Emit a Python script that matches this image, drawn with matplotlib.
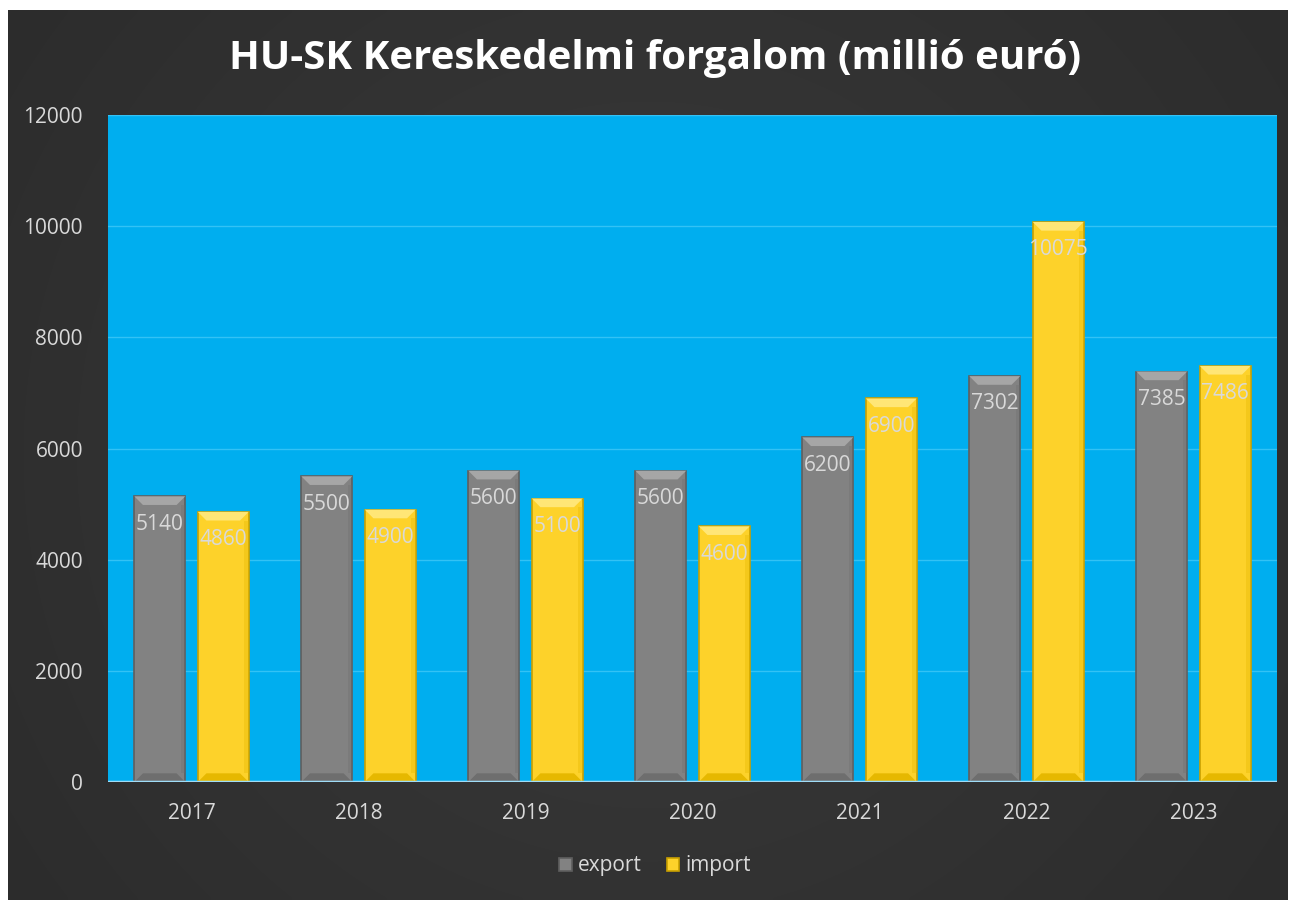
import numpy as np
import matplotlib.pyplot as plt
from matplotlib.patches import Polygon, Rectangle

years = ["2017", "2018", "2019", "2020", "2021", "2022", "2023"]
export = [5140, 5500, 5600, 5600, 6200, 7302, 7385]
imports = [4860, 4900, 5100, 4600, 6900, 10075, 7486]

title = "HU-SK Kereskedelmi forgalom (millió euró)"
yticks = [0, 2000, 4000, 6000, 8000, 10000, 12000]

plt.rcParams['font.family'] = ['Open Sans', 'DejaVu Sans']

W, H = 1289, 900
fig = plt.figure(figsize=(W / 100, H / 100), dpi=100, facecolor='white')

# dark background with a soft radial glow
bg = fig.add_axes([8 / W, 0, (1288 - 8) / W, (H - 10) / H])
bg.set_axis_off()
yy, xx = np.mgrid[0:1:200j, 0:1:300j]
r = np.sqrt((xx - 0.5) ** 2 + ((yy - 0.5) * 0.7) ** 2)
glow = np.clip(1 - r / 0.75, 0, 1)
shade = 0.16 + 0.07 * glow
img = np.dstack([shade, shade, shade])
bg.imshow(img, aspect='auto', extent=[0, 1, 0, 1], interpolation='bilinear')

# plot area
left, right, top, bottom = 108, 1277, 115, 782
ax = fig.add_axes([left / W, 1 - bottom / H, (right - left) / W, (bottom - top) / H])
ax.set_facecolor('#00aeef')
ax.set_ylim(0, 12000)
ax.set_xlim(-0.5, len(years) - 0.5)
ax.set_yticks(yticks)
ax.yaxis.grid(True, color='#33c2f5', linewidth=1)
ax.set_axisbelow(True)
for s in ax.spines.values():
    s.set_visible(False)
ax.axhline(0, color='#9fdcf7', linewidth=2.5, zorder=4)
ax.tick_params(length=0, colors='#d9d9d9', labelsize=15)
ax.tick_params(axis='y', pad=18)
ax.tick_params(axis='x', pad=15)
ax.set_xticks(range(len(years)))
ax.set_xticklabels(years)

x = np.arange(len(years))
bw = 0.305
off = 0.19

# pixels per data unit, used to keep the bevel square on screen
px_x = (right - left) / len(years)
px_y = (bottom - top) / 12000


def bevel_bars(xs, vals, face, edge, light, dark):
    bars = ax.bar(xs, vals, width=bw, color=face, edgecolor=edge, linewidth=1.2, zorder=3)
    for b in bars:
        x0, w, h = b.get_x(), b.get_width(), b.get_height()
        d = w * 0.17
        dy = d * px_x / px_y
        ax.add_patch(Polygon([[x0, h], [x0 + w, h], [x0 + w - d, h - dy], [x0 + d, h - dy]],
                             closed=True, color=light, zorder=3.5, lw=0))
        ax.add_patch(Polygon([[x0, 0], [x0 + w, 0], [x0 + w - d, dy], [x0 + d, dy]],
                             closed=True, color=dark, zorder=3.5, lw=0))
        ax.add_patch(Rectangle((x0 + w - d * 0.5, dy), d * 0.5, h - 2 * dy,
                               color=dark, alpha=0.35, zorder=3.5, lw=0))
        ax.annotate(f"{int(h)}", (x0 + w / 2, h), xytext=(0, -20), textcoords='offset points',
                    ha='center', va='center', color='#d9d9d9', fontsize=15, zorder=5)
    return bars


b1 = bevel_bars(x - off, export, '#828282', '#5f5f5f', '#a6a6a6', '#6e6e6e')
b2 = bevel_bars(x + off, imports, '#fdd22a', '#c9a000', '#ffe676', '#e6b800')

fig.text(655 / W, 1 - 58 / H, title, ha='center', va='center', color='white',
         fontsize=29, fontweight='bold')

leg = fig.legend([b1, b2], ['export', 'import'], loc='center', bbox_to_anchor=(655 / W, 1 - 866 / H),
                 ncol=2, frameon=False, fontsize=15, labelcolor='#d9d9d9',
                 handlelength=0.6, handleheight=0.6, handletextpad=0.3, columnspacing=1.2)

fig.savefig('out.png', dpi=100, facecolor='white')
